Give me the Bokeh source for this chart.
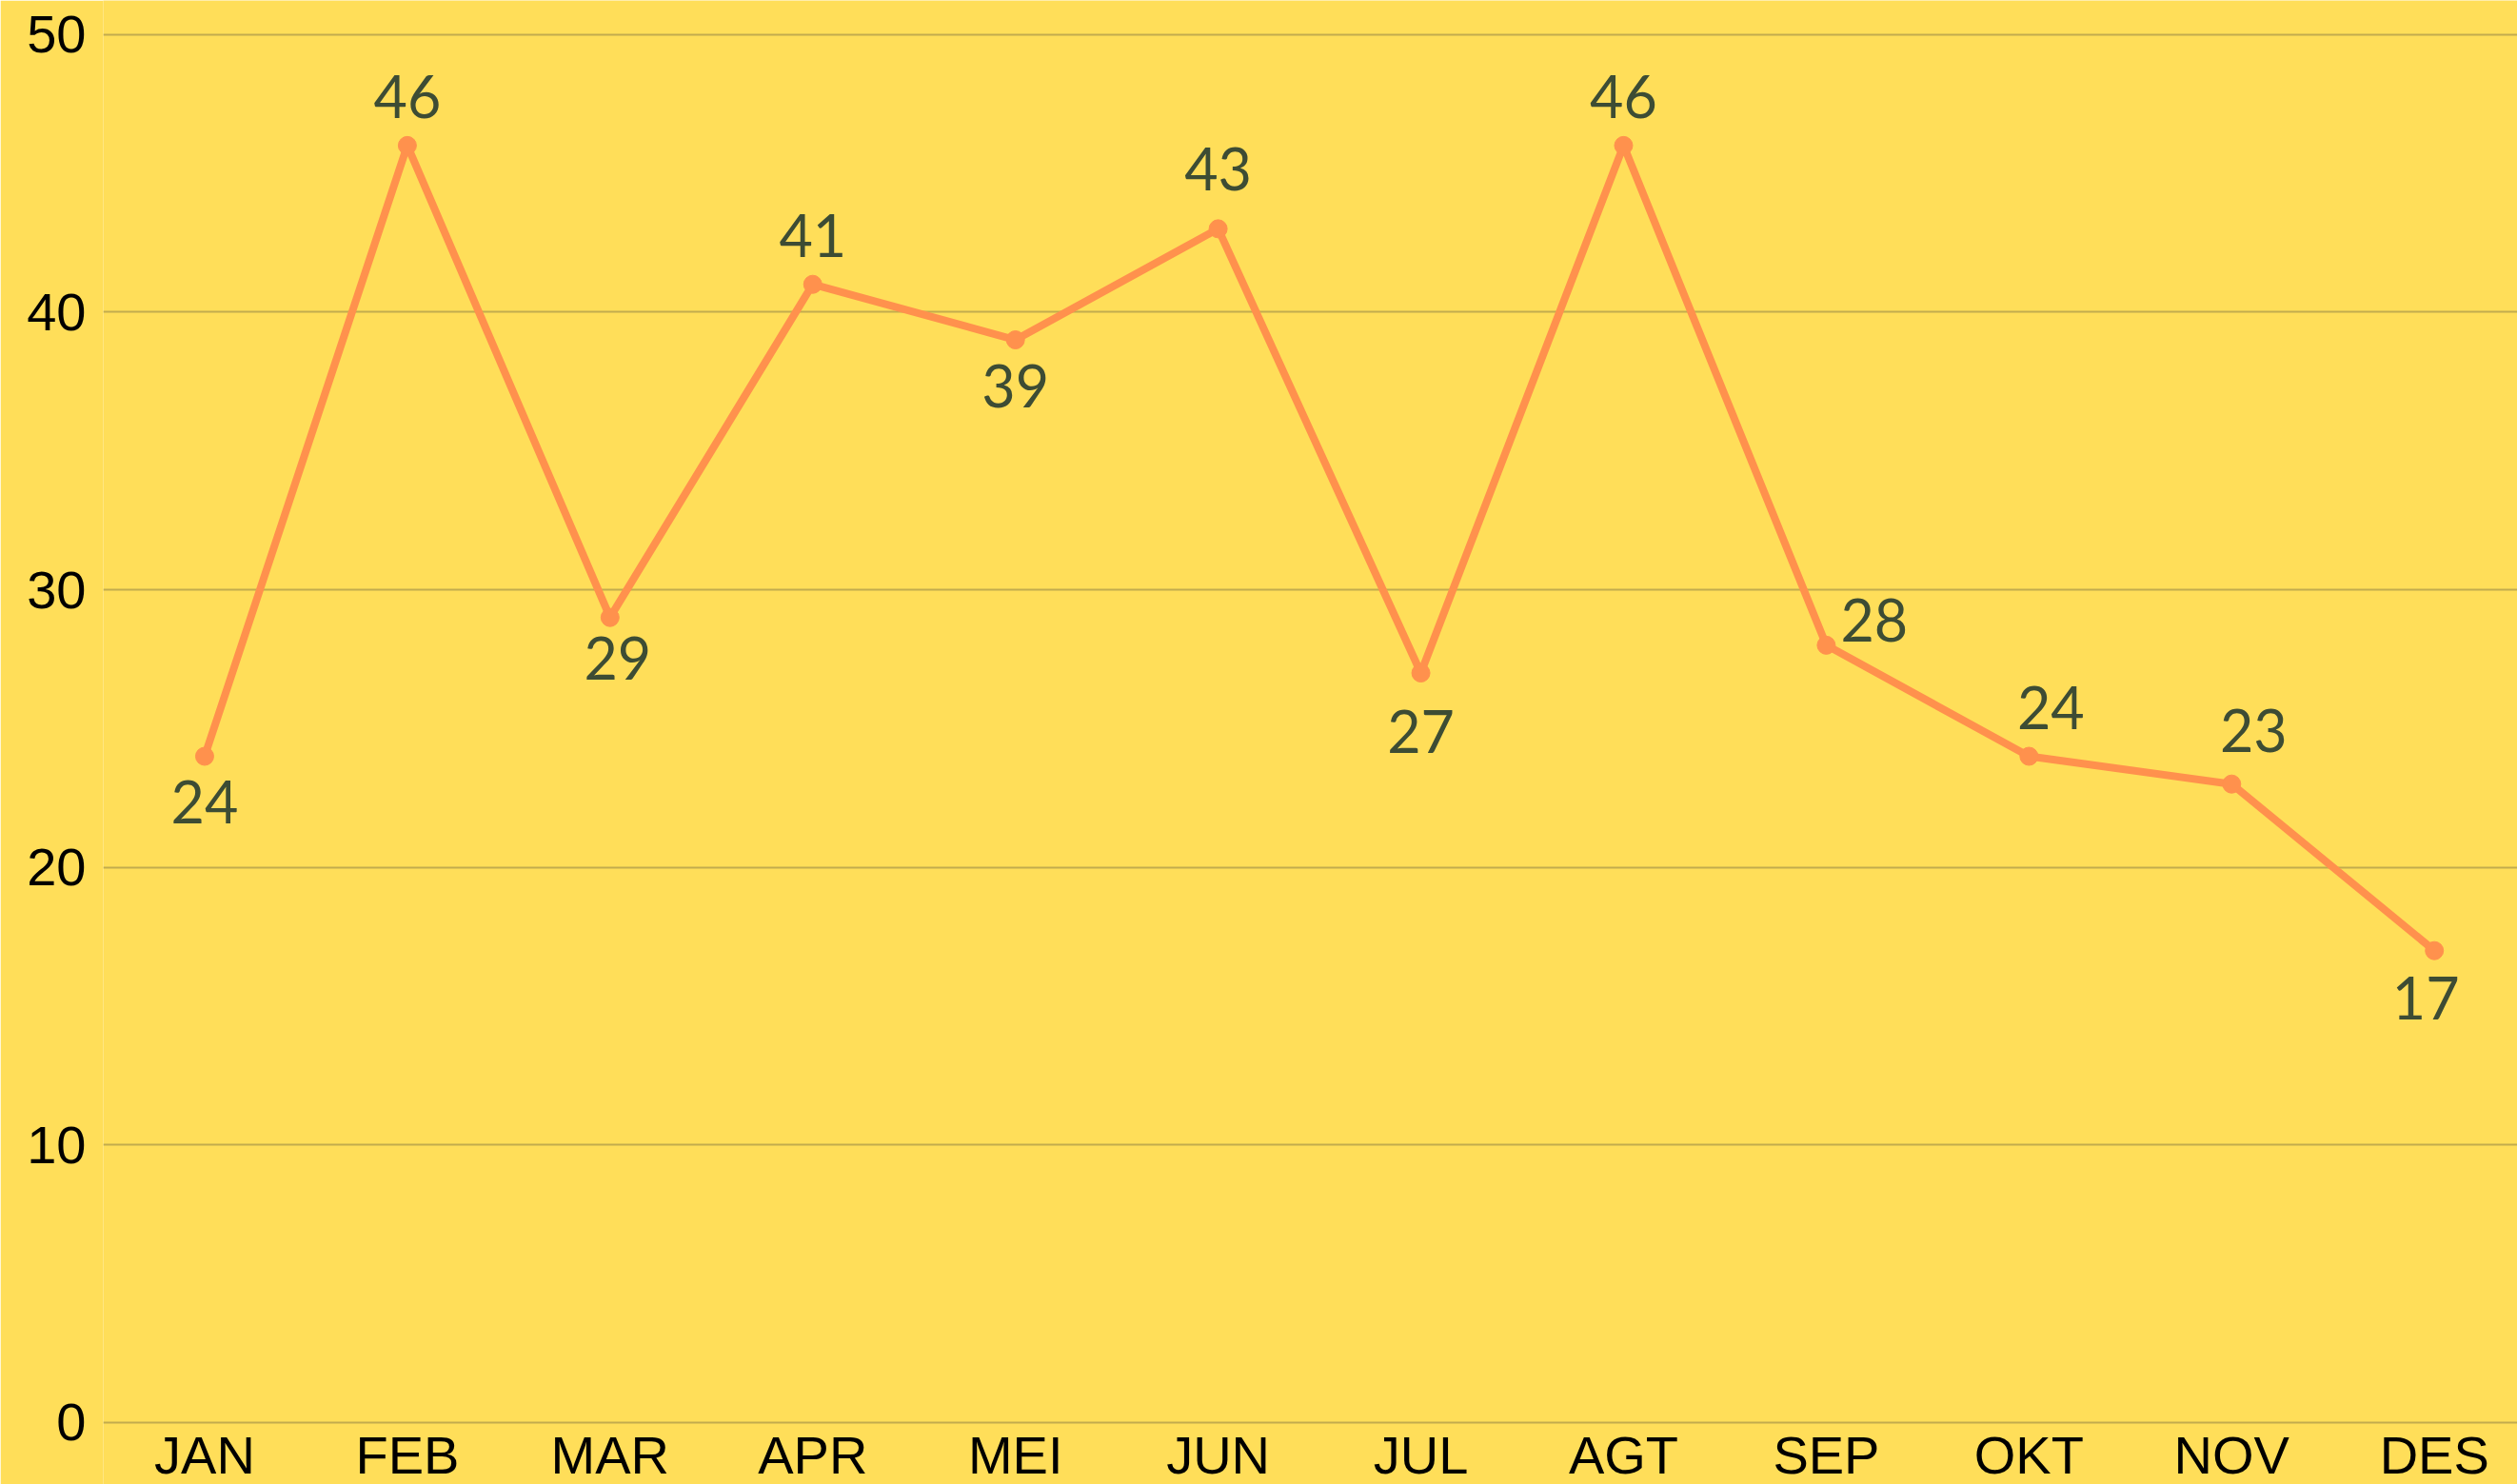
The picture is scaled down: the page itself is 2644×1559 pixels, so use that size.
from bokeh.plotting import figure
from bokeh.models import ColumnDataSource, Range1d, FixedTicker
from bokeh.core.properties import value
from bokeh.embed import file_html
from bokeh.resources import INLINE

# ---- data ----
months = ["JAN", "FEB", "MAR", "APR", "MEI", "JUN", "JUL", "AGT", "SEP", "OKT", "NOV", "DES"]
values = [24, 46, 29, 41, 39, 43, 27, 46, 28, 24, 23, 17]
y_ticks = [0, 10, 20, 30, 40, 50]
# label placement relative to each point
label_place = ["below", "above", "below_r", "above", "below", "above_hi",
               "below_lo", "above", "right", "above_r", "above_r2", "below_l"]

# ---- styling ----
BG = "#FFDE59"
LINE = "#FF914D"
LABEL = "#3D4C34"
GRID = "#C2AB4E"

place_style = {
    "above":    (0, -51, "center"),
    "above_hi": (0, -63, "center"),
    "above_r":  (23, -51, "center"),
    "above_r2": (23, -56, "center"),
    "below":    (0, 48, "center"),
    "below_r":  (8, 43, "center"),
    "below_l":  (-9, 50, "center"),
    "below_lo": (0, 61, "center"),
    "right":    (15, -26, "left"),
}

xs = list(range(len(months)))
dx = [place_style[k][0] for k in label_place]
dy = [place_style[k][1] for k in label_place]
al = [place_style[k][2] for k in label_place]

src = ColumnDataSource(dict(x=xs, y=values, lbl=[str(v) for v in values],
                            dx=dx, dy=dy, al=al))
msrc = ColumnDataSource(dict(x=xs, y=[0] * len(months), m=months))

p = figure(width=2644, height=1559, output_backend="svg", toolbar_location=None,
           x_range=Range1d(-0.5, 11.41), y_range=Range1d(-2.229, 51.224),
           x_axis_location=None,
           min_border_left=108, min_border_right=0, min_border_top=0, min_border_bottom=0)

p.background_fill_color = BG
p.border_fill_color = BG
p.outline_line_color = None

# y axis
p.yaxis.ticker = FixedTicker(ticks=y_ticks)
p.yaxis.axis_line_color = None
p.yaxis.major_tick_line_color = None
p.yaxis.minor_tick_line_color = None
p.yaxis.major_tick_out = 0
p.yaxis.major_tick_in = 0
p.yaxis.major_label_text_font = "Liberation Sans"
p.yaxis.major_label_text_font_size = "56px"
p.yaxis.major_label_text_color = "#000000"
p.yaxis.major_label_standoff = 18

# grid
p.xgrid.grid_line_color = None
p.ygrid.ticker = FixedTicker(ticks=y_ticks)
p.ygrid.grid_line_color = GRID
p.ygrid.grid_line_width = 2

# month labels (category axis)
p.text("x", "y", text="m", source=msrc, y_offset=34,
       text_align="center", text_baseline="middle",
       text_font=value("Liberation Sans"), text_font_size="56px", text_color="#000000")

# series
p.line("x", "y", source=src, line_color=LINE, line_width=8, line_join="round")
p.scatter("x", "y", source=src, size=19, fill_color=LINE, line_color=LINE)

p.text("x", "y", text="lbl", source=src, x_offset="dx", y_offset="dy",
       text_align="al", text_baseline="middle",
       text_font=value("Lato"), text_font_size="61px", text_color=LABEL)

open("out.html", "w").write(file_html(p, INLINE))
